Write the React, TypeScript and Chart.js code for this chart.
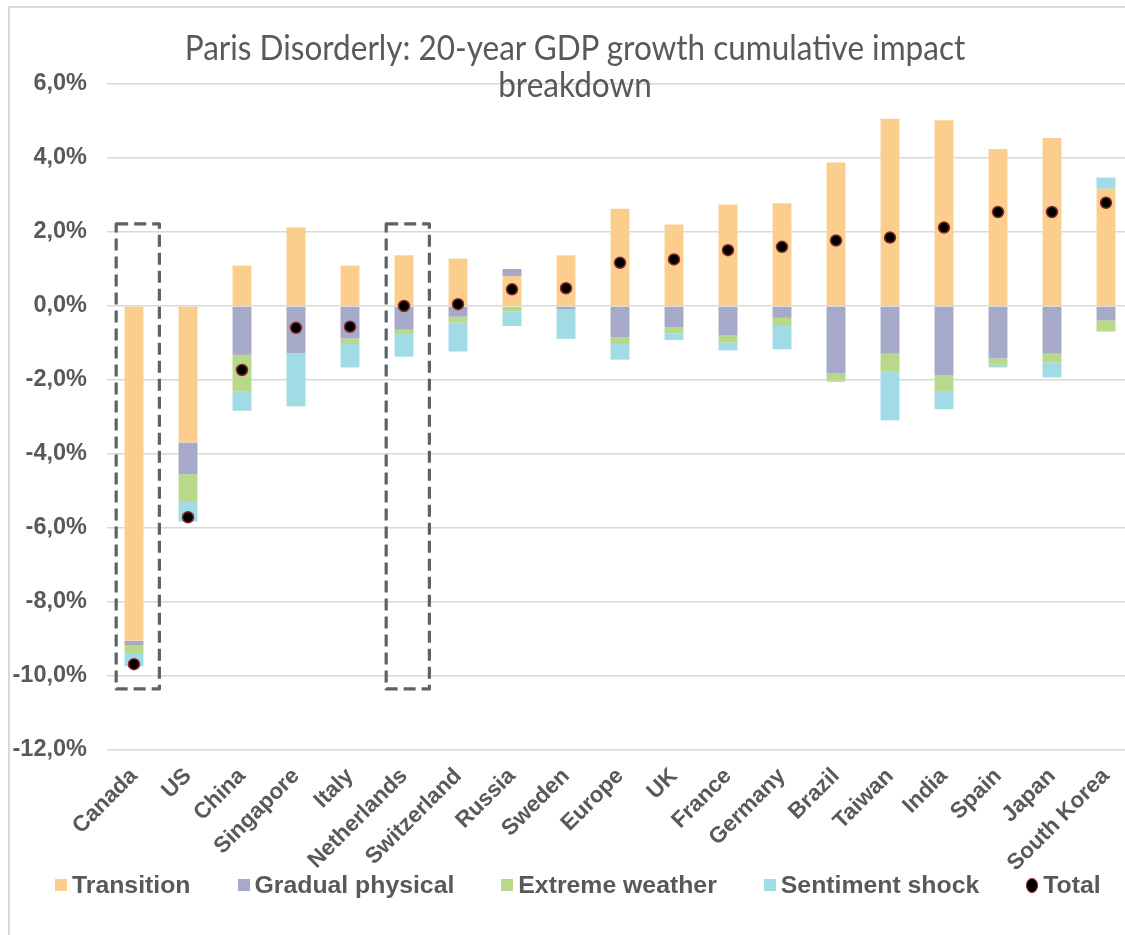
import React, { useEffect, useRef } from "react";
import { Chart, registerables } from "chart.js";

Chart.register(...registerables);

const categories = [
  "Canada", "US", "China", "Singapore", "Italy", "Netherlands", "Switzerland", "Russia", "Sweden",
  "Europe", "UK", "France", "Germany", "Brazil", "Taiwan", "India", "Spain", "Japan", "South Korea",
];

const transition = [-9.05, -3.69, 1.09, 2.12, 1.09, 1.37, 1.28, 0.81, 1.37, 2.63, 2.2, 2.74, 2.78, 3.88, 5.06, 5.02, 4.24, 4.54, 3.17];
const gradualPhysical = [-0.13, -0.86, -1.32, -1.27, -0.88, -0.64, -0.29, 0.19, -0.08, -0.84, -0.58, -0.8, -0.32, -1.81, -1.29, -1.88, -1.42, -1.29, -0.39];
const extremeWeather = [-0.2, -0.75, -0.98, -0.02, -0.15, -0.12, -0.16, -0.14, -0.03, -0.19, -0.17, -0.19, -0.22, -0.21, -0.47, -0.41, -0.17, -0.24, -0.3];
const sentimentShock = [-0.36, -0.52, -0.53, -1.42, -0.63, -0.61, -0.78, -0.4, -0.78, -0.42, -0.17, -0.21, -0.63, -0.03, -1.33, -0.5, -0.07, -0.4, 0.3];
const total = [-9.68, -5.71, -1.73, -0.59, -0.56, 0.0, 0.05, 0.45, 0.48, 1.17, 1.26, 1.51, 1.6, 1.77, 1.85, 2.12, 2.54, 2.54, 2.79];

const yTicks = [-12, -10, -8, -6, -4, -2, 0, 2, 4, 6];

// Dashed highlight boxes (categories and value range they span)
const highlightCategories = ["Canada", "Netherlands"];
const highlightRange = [2.22, -10.35];

const titleLines = ["Paris Disorderly: 20-year GDP growth cumulative impact", "breakdown"];

const seriesNames = ["Transition", "Gradual physical", "Extreme weather", "Sentiment shock", "Total"];
const seriesColors = ["#FBCE8E", "#A6AAC8", "#B8D88A", "#A0DBE6", "#000000"];

const TEXT = "#595959";
const FONT = "'Liberation Sans', Arial, sans-serif";

const highlightPlugin = {
  id: "highlightBoxes",
  afterDatasetsDraw(chart: any) {
    const { ctx, scales } = chart;
    const x = scales.x;
    const y = scales.y;
    const step = x.getPixelForValue(1) - x.getPixelForValue(0);
    ctx.save();
    ctx.strokeStyle = "#5B6269";
    ctx.lineWidth = 3.2;
    ctx.setLineDash([12, 6]);
    ctx.lineJoin = "round";
    highlightCategories.forEach((c) => {
      const i = categories.indexOf(c);
      const cx = x.getPixelForValue(i);
      const left = cx - step * 0.33;
      const right = cx + step * 0.47;
      const top = y.getPixelForValue(highlightRange[0]);
      const bottom = y.getPixelForValue(highlightRange[1]);
      ctx.strokeRect(left, top, right - left, bottom - top);
    });
    ctx.restore();
  },
};

export default function App() {
  const ref = useRef<HTMLCanvasElement | null>(null);

  useEffect(() => {
    if (!ref.current) return;
    const barSeries = [transition, gradualPhysical, extremeWeather, sentimentShock];
    const chart = new Chart(ref.current, {
      type: "bar",
      data: {
        labels: categories,
        datasets: [
          ...barSeries.map((d, k) => ({
            type: "bar" as const,
            label: seriesNames[k],
            data: d,
            backgroundColor: seriesColors[k],
            borderWidth: 0,
            categoryPercentage: 1,
            barPercentage: 0.35,
            order: 1,
          })),
          {
            type: "line" as const,
            label: seriesNames[4],
            data: total,
            showLine: false,
            stack: "total",
            pointRadius: 5.5,
            pointBackgroundColor: "#000000",
            pointBorderColor: "#8B2A2A",
            pointBorderWidth: 1.5,
            order: 0,
          } as any,
        ],
      },
      options: {
        animation: false,
        responsive: false,
        devicePixelRatio: 1,
        layout: { padding: { top: 84, right: 5, left: 0, bottom: 0 } },
        plugins: {
          legend: { display: false },
          title: { display: false },
          tooltip: { enabled: false },
        },
        scales: {
          x: {
            stacked: true,
            grid: { display: false, drawTicks: false },
            border: { display: false },
            ticks: {
              autoSkip: false,
              maxRotation: 45,
              minRotation: 45,
              padding: 13,
              color: TEXT,
              font: { family: FONT, size: 22.5, weight: "bold" },
            },
            afterFit: (s: any) => {
              s.height = 185;
            },
          },
          y: {
            stacked: true,
            min: -12,
            max: 6,
            afterBuildTicks: (s: any) => {
              s.ticks = yTicks.map((v) => ({ value: v }));
            },
            grid: { color: "#D9D9D9", lineWidth: 1.5, drawTicks: false },
            border: { display: false },
            ticks: {
              padding: 20,
              color: TEXT,
              font: { family: FONT, size: 23.5, weight: "bold" },
              callback: (v: any) => `${Number(v).toFixed(1).replace(".", ",")}%`,
            },
            afterFit: (s: any) => {
              s.width = 107;
            },
          },
        },
      },
      plugins: [highlightPlugin],
    });
    return () => chart.destroy();
  }, []);

  return (
    <div
      style={{
        position: "fixed",
        left: 0,
        top: 0,
        width: 1125,
        height: 935,
        overflow: "hidden",
        background: "#ffffff",
      }}
    >
      <div
        style={{
          position: "absolute",
          left: 8,
          top: 6,
          width: 1300,
          height: 1100,
          border: "2px solid #D9D9D9",
        }}
      />
      <canvas ref={ref} width={1140} height={935} style={{ position: "absolute", left: 0, top: 0 }} />
      <div
        style={{
          position: "absolute",
          left: 575,
          top: 28,
          transform: "translateX(-50%) scaleX(0.9)",
          fontFamily: "Lato, 'Open Sans', sans-serif",
          fontWeight: 400,
          fontSize: 35,
          lineHeight: "37px",
          color: TEXT,
          textAlign: "center",
          whiteSpace: "nowrap",
        }}
      >
        {titleLines.map((t) => (
          <div key={t}>{t}</div>
        ))}
      </div>
      <div
        style={{
          position: "absolute",
          left: 55,
          top: 870,
          height: 30,
          display: "flex",
          alignItems: "center",
          gap: 47,
          fontFamily: FONT,
          fontWeight: "bold",
          fontSize: 24.8,
          color: TEXT,
          whiteSpace: "nowrap",
        }}
      >
        {seriesNames.map((n, k) => (
          <div key={n} style={{ display: "flex", alignItems: "center", gap: 5 }}>
            <span
              style={{
                display: "inline-block",
                width: 12,
                height: k === 4 ? 15 : 12,
                background: seriesColors[k],
                borderRadius: k === 4 ? "50%" : 0,
                border: k === 4 ? "1.5px solid #8B2A2A" : "none",
                boxSizing: "border-box",
              }}
            />
            <span>{n}</span>
          </div>
        ))}
      </div>
    </div>
  );
}
